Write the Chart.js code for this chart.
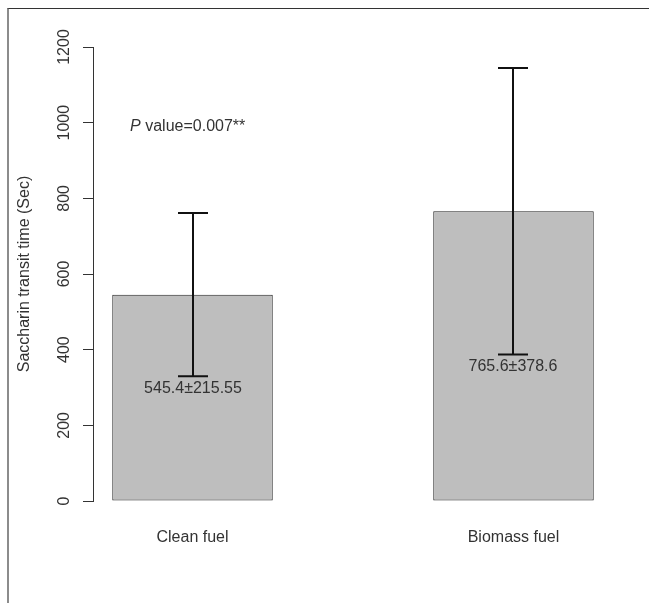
<!DOCTYPE html>
<html>
<head>
<meta charset="utf-8">
<script src="https://cdn.jsdelivr.net/npm/chart.js@4/dist/chart.umd.min.js"></script>
<style>
body { margin: 0; background: #fff; }
#wrap { position: relative; width: 649px; height: 603px; }
#frame { position: absolute; left: 7px; top: 8px; right: 0; bottom: 0;
         border-top: 1px solid #333; border-left: 2px solid #8c8c8c; pointer-events: none; }
</style>
</head>
<body>
<div id="wrap">
  <canvas id="report" width="649" height="603"></canvas>
  <div id="frame"></div>
</div>
<script>
var categories = ['Clean fuel', 'Biomass fuel'];
var means = [545.4, 765.6];
var sds = [215.55, 378.6];
var yTicks = [0, 200, 400, 600, 800, 1000, 1200];
var yTitle = 'Saccharin transit time (Sec)';
var pItalic = 'P';
var pRest = ' value=0.007**';
var pLabelAt = [1.47, 1000];

// barplot positions, space = 1, width = 1
var barX = categories.map(function(c, i) { return 1.5 + 2 * i; });

var FONT = '"Liberation Sans", Arial, sans-serif';
Chart.defaults.font.family = FONT;
Chart.defaults.font.size = 16;
Chart.defaults.color = '#333';

// error bars, mean±sd labels and the p value note
var extras = {
    id: 'extras',
    afterDatasetsDraw: function(chart) {
        var ctx = chart.ctx;
        var xs = chart.scales.x, ys = chart.scales.y;
        ctx.save();
        ctx.strokeStyle = '#111';
        ctx.lineWidth = 2;
        means.forEach(function(m, i) {
            var px = Math.round(xs.getPixelForValue(barX[i]));
            var top = ys.getPixelForValue(m + sds[i]);
            var bot = ys.getPixelForValue(m - sds[i]);
            ctx.beginPath();
            ctx.moveTo(px, top); ctx.lineTo(px, bot);
            ctx.moveTo(px - 15, top); ctx.lineTo(px + 15, top);
            ctx.moveTo(px - 15, bot); ctx.lineTo(px + 15, bot);
            ctx.stroke();

            ctx.fillStyle = '#333';
            ctx.font = '16px ' + FONT;
            ctx.textAlign = 'center';
            ctx.textBaseline = 'middle';
            ctx.fillText(m + '±' + sds[i], px, bot + 12);
        });

        // P value text, italic P
        var cx = xs.getPixelForValue(pLabelAt[0]);
        var cy = ys.getPixelForValue(pLabelAt[1]) + 4;
        ctx.textBaseline = 'middle';
        ctx.textAlign = 'left';
        ctx.font = 'italic 16px ' + FONT;
        var w1 = ctx.measureText(pItalic).width;
        ctx.font = '16px ' + FONT;
        var w2 = ctx.measureText(pRest).width;
        var sx = cx - (w1 + w2) / 2;
        ctx.font = 'italic 16px ' + FONT;
        ctx.fillText(pItalic, sx, cy);
        ctx.font = '16px ' + FONT;
        ctx.fillText(pRest, sx + w1, cy);
        ctx.restore();
    }
};

var ctx = document.getElementById('report').getContext('2d');
var barChart = new Chart(ctx, {
    type: 'bar',
    data: {
        datasets: [{
            data: means.map(function(m, i) { return { x: barX[i], y: m }; }),
            backgroundColor: '#bebebe',
            borderColor: '#222',
            borderWidth: 1,
            borderSkipped: false,
            barPercentage: 0.5,
            categoryPercentage: 1
        }]
    },
    options: {
        responsive: false,
        animation: false,
        devicePixelRatio: 1,
        layout: { padding: { top: 47, right: 36, bottom: 0, left: 8 } },
        plugins: {
            legend: { display: false },
            tooltip: { enabled: false }
        },
        scales: {
            x: {
                type: 'linear',
                offset: false,
                min: 0.88,
                max: 4.12,
                grid: { display: false, drawTicks: false, offset: false },
                border: { display: false },
                afterBuildTicks: function(scale) {
                    scale.ticks = barX.map(function(v) { return { value: v }; });
                },
                afterFit: function(scale) { scale.height = 102; },
                ticks: {
                    padding: 27,
                    maxRotation: 0,
                    autoSkip: false,
                    callback: function(value, index) { return categories[index]; }
                }
            },
            y: {
                type: 'linear',
                min: 0,
                max: 1200,
                grid: { drawOnChartArea: false, drawTicks: true, tickLength: 10, color: '#333' },
                border: { display: true, color: '#333', width: 1 },
                afterBuildTicks: function(scale) {
                    scale.ticks = yTicks.map(function(v) { return { value: v }; });
                },
                afterFit: function(scale) { scale.width = 85; },
                ticks: {
                    minRotation: 90,
                    maxRotation: 90,
                    crossAlign: 'center',
                    padding: 1,
                    autoSkip: false,
                    callback: function(value) { return String(value); }
                },
                title: {
                    display: true,
                    text: yTitle,
                    padding: { top: 7, bottom: 4 }
                }
            }
        }
    },
    plugins: [extras]
});
</script>
</body>
</html>
